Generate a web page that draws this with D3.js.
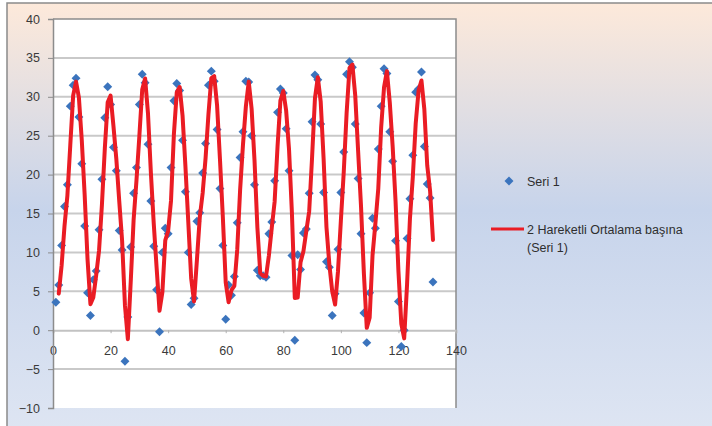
<!DOCTYPE html>
<html>
<head>
<meta charset="utf-8">
<script src="https://cdn.jsdelivr.net/npm/d3@7"></script>
<style>
  body { margin: 0; background: #fff; }
  text { font-family: "Liberation Sans", Arial, sans-serif; }
</style>
</head>
<body>
<div id="chart"></div>
<script>
// Seri 1 values (x = 1, 2, 3 ...)
const seri1 = [
  3.6, 5.8, 10.9, 15.9, 18.7, 28.8, 31.5, 32.4, 27.4, 21.4, 13.4, 4.8,
  1.9, 6.5, 7.6, 12.9, 19.4, 27.3, 31.3, 29.0, 23.5, 20.5, 12.8, 10.3,
  -4.0, 1.7, 10.7, 17.6, 20.9, 29.0, 32.9, 31.8, 23.9, 16.6, 10.8, 5.2,
  -0.2, 10.0, 13.1, 12.4, 20.9, 29.5, 31.7, 30.8, 24.4, 17.8, 10.0, 3.3,
  4.1, 14.0, 15.1, 20.2, 24.0, 31.5, 33.3, 32.0, 25.8, 18.2, 10.9, 1.4,
  5.8, 4.5, 6.9, 13.8, 22.2, 25.5, 32.0, 31.9, 25.0, 18.7, 7.7, 7.0,
  7.0, 6.8, 12.4, 13.9, 19.2, 28.0, 31.0, 30.5, 25.9, 20.5, 9.6, -1.3,
  9.7, 7.8, 12.5, 13.0, 17.6, 26.8, 32.8, 32.2, 26.5, 17.7, 8.8, 8.1,
  1.9, 4.7, 10.4, 17.7, 22.9, 32.9, 34.5, 33.8, 26.5, 19.5, 12.4, 2.2,
  -1.6, 4.8, 14.4, 13.1, 23.3, 28.8, 33.6, 33.0, 25.5, 21.7, 11.5, 3.7,
  -2.1, 0.0, 11.8, 16.9, 22.5, 30.6, 31.0, 33.2, 23.6, 18.8, 17.0, 6.2
];
const yTicks = [-10, -5, 0, 5, 10, 15, 20, 25, 30, 35, 40];
const xTicks = [0, 20, 40, 60, 80, 100, 120, 140];
const seriesName = "Seri 1";
const trendLines = ["2 Hareketli Ortalama başına", "(Seri 1)"];

let svgWidth = 712;
let svgHeight = 426;

let svg = d3.select("#chart")
    .append("svg")
    .attr("width", svgWidth)
    .attr("height", svgHeight);

// chart area background
let defs = svg.append("defs");
let grad = defs.append("linearGradient")
    .attr("id", "bg")
    .attr("x1", 0).attr("y1", 0).attr("x2", 0).attr("y2", 1);
grad.append("stop").attr("offset", "0%").attr("stop-color", "#fde9da");
grad.append("stop").attr("offset", "47%").attr("stop-color", "#c7d4eb");
grad.append("stop").attr("offset", "100%").attr("stop-color", "#dfe6f3");

svg.append("rect")
    .attr("x", 7).attr("y", 3)
    .attr("width", 720).attr("height", 440)
    .attr("fill", "url(#bg)")
    .attr("stroke", "#8a8a8a")
    .attr("stroke-width", 1.5);

// scales
let xScale = d3.scaleLinear().domain([0, 140]).range([53, 456]);
let yScale = d3.scaleLinear().domain([-10, 40]).range([408, 19]);

// plot area
svg.append("rect")
    .attr("x", xScale(0)).attr("y", yScale(40))
    .attr("width", xScale(140) - xScale(0))
    .attr("height", yScale(-10) - yScale(40))
    .attr("fill", "#ffffff");

// gridlines
svg.append("g")
    .selectAll("line")
    .data(yTicks.filter(t => t > -10 && t < 40 && t !== 0))
    .enter()
    .append("line")
    .attr("x1", xScale(0)).attr("x2", xScale(140))
    .attr("y1", d => yScale(d)).attr("y2", d => yScale(d))
    .attr("stroke", "#c9c9c9")
    .attr("stroke-width", 2);

// plot border top / right
svg.append("path")
    .attr("d", `M${xScale(0)},${yScale(40)}H${xScale(140)}V${yScale(-10)}`)
    .attr("fill", "none")
    .attr("stroke", "#8c8c8c")
    .attr("stroke-width", 1.5);

// axes
let leftAxis = d3.axisLeft(yScale).tickValues(yTicks).tickSize(5).tickPadding(8);
let bottomAxis = d3.axisBottom(xScale).tickValues(xTicks).tickSize(3).tickPadding(13);

let xAxisG = svg.append("g")
    .attr("transform", `translate(0, ${yScale(0)})`)
    .call(bottomAxis);
xAxisG.select(".domain").attr("stroke", "#c2c2c2").attr("stroke-width", 2);
xAxisG.selectAll(".tick line").attr("stroke", "#b0b0b0");

let yAxisG = svg.append("g")
    .attr("transform", `translate(${xScale(0)}, 0)`)
    .call(leftAxis);
yAxisG.select(".domain").attr("stroke", "#8c8c8c").attr("stroke-width", 1.5);
yAxisG.selectAll(".tick line").attr("stroke", "#8c8c8c");

svg.selectAll(".tick text")
    .attr("font-size", 12.5)
    .attr("font-family", "Liberation Sans, Arial, sans-serif")
    .attr("fill", "#3a3a3a");

// data
let points = seri1.map((v, i) => ({ x: i + 1, y: v }));
let movingAvg = points.slice(1).map((p, i) => ({ x: p.x, y: (p.y + points[i].y) / 2 }));

let diamond = d3.symbol().type(d3.symbolSquare).size(40);

svg.append("g")
    .selectAll("path")
    .data(points)
    .enter()
    .append("path")
    .attr("d", diamond)
    .attr("transform", d => `translate(${xScale(d.x)}, ${yScale(d.y)}) rotate(45)`)
    .attr("fill", "#3b74bd");

let line = d3.line()
    .x(d => xScale(d.x))
    .y(d => yScale(d.y));

svg.append("path")
    .datum(movingAvg)
    .attr("d", line)
    .attr("fill", "none")
    .attr("stroke", "#ea1c24")
    .attr("stroke-width", 4)
    .attr("stroke-linejoin", "round")
    .attr("stroke-linecap", "round");

// legend
let legend = svg.append("g");
legend.append("path")
    .attr("d", diamond)
    .attr("transform", "translate(509, 181) rotate(45)")
    .attr("fill", "#3b74bd");
legend.append("text")
    .attr("x", 527).attr("y", 185.5)
    .attr("font-size", 12.5)
    .attr("fill", "#2e2e2e")
    .text(seriesName);
legend.append("line")
    .attr("x1", 491).attr("x2", 524)
    .attr("y1", 229).attr("y2", 229)
    .attr("stroke", "#ea1c24")
    .attr("stroke-width", 3);
legend.selectAll(".trend")
    .data(trendLines)
    .enter()
    .append("text")
    .attr("class", "trend")
    .attr("x", 527)
    .attr("y", (d, i) => 233.5 + i * 18)
    .attr("font-size", 12.5)
    .attr("fill", "#2e2e2e")
    .text(d => d);
</script>
</body>
</html>
